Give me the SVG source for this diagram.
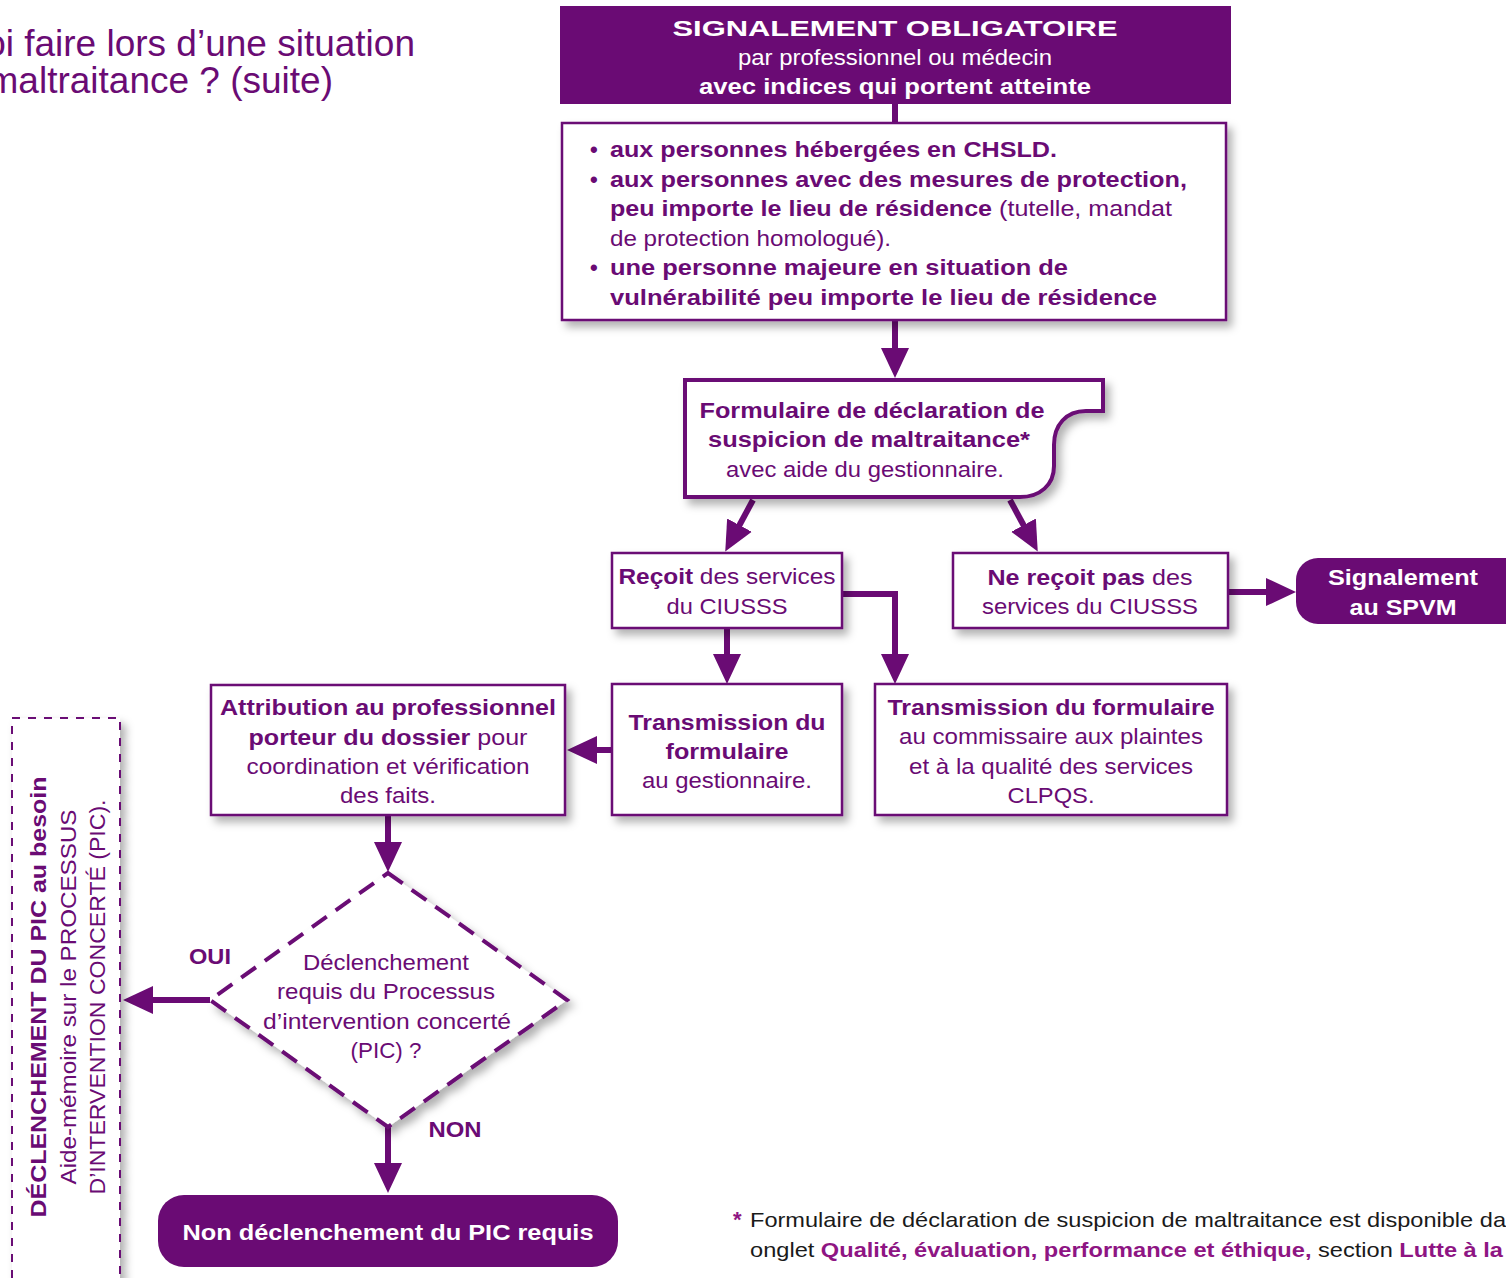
<svg xmlns="http://www.w3.org/2000/svg" width="1506" height="1278" viewBox="0 0 1506 1278">
<style>
text{font-family:"Liberation Sans",Arial,sans-serif;fill:#6a0b74;font-size:22px}
.b{font-weight:bold}
.w{fill:#fff}
.c{text-anchor:middle}
.box{fill:#fff;stroke:#6a0b74;stroke-width:2.5}
.fill{fill:#6a0b74}
.ln{fill:none;stroke:#6a0b74;stroke-width:6}
.fn{fill:#1a1a1a;font-size:21px}
.pk{fill:#8e1583;font-weight:bold}
</style>
<defs>
<filter id="sh" x="-10%" y="-10%" width="130%" height="140%">
<feDropShadow dx="5" dy="6" stdDeviation="4" flood-color="#000" flood-opacity="0.3"/>
</filter>
<marker id="ah" markerUnits="userSpaceOnUse" markerWidth="30" markerHeight="30" refX="1" refY="15" orient="auto">
<path d="M0,1 L30,15 L0,29 Z" fill="#6a0b74"/>
</marker>
</defs>

<g id="title">
<text x="415" y="56" style="font-size:37px;text-anchor:end">oi faire lors d’une situation</text>
<text x="333" y="93" style="font-size:37px;text-anchor:end">maltraitance ? (suite)</text>
</g>

<g id="connectors">
<line class="ln" x1="895" y1="104" x2="895" y2="124"/>
<line class="ln" x1="895" y1="320" x2="895" y2="349" marker-end="url(#ah)"/>
<line class="ln" x1="753" y1="500" x2="739" y2="526" marker-end="url(#ah)"/>
<line class="ln" x1="1010" y1="500" x2="1024" y2="526" marker-end="url(#ah)"/>
<line class="ln" x1="1228" y1="592" x2="1267" y2="592" marker-end="url(#ah)"/>
<line class="ln" x1="727" y1="628" x2="727" y2="655" marker-end="url(#ah)"/>
<polyline class="ln" points="842,594 895,594 895,655" marker-end="url(#ah)"/>
<line class="ln" x1="612" y1="750" x2="596" y2="750" marker-end="url(#ah)"/>
<line class="ln" x1="388" y1="815" x2="388" y2="843" marker-end="url(#ah)"/>
<line class="ln" x1="210" y1="1000" x2="152" y2="1000" marker-end="url(#ah)"/>
<line class="ln" x1="388" y1="1127" x2="388" y2="1164" marker-end="url(#ah)"/>
<text class="b c" x="210" y="964" textLength="42" lengthAdjust="spacingAndGlyphs">OUI</text>
<text class="b c" x="455" y="1137" textLength="53" lengthAdjust="spacingAndGlyphs">NON</text>
</g>

<g id="signalement-obligatoire">
<rect class="fill" x="560" y="6" width="671" height="98"/>
<text class="b w c" x="895" y="36" textLength="445" lengthAdjust="spacingAndGlyphs">SIGNALEMENT OBLIGATOIRE</text>
<text class="w c" x="895" y="65" textLength="314" lengthAdjust="spacingAndGlyphs">par professionnel ou médecin</text>
<text class="b w c" x="895" y="94" textLength="392" lengthAdjust="spacingAndGlyphs">avec indices qui portent atteinte</text>
</g>

<g id="personnes">
<rect class="box" x="562" y="123" width="664" height="197" filter="url(#sh)"/>
<text class="b" x="590" y="157">•</text>
<text class="b" x="610" y="157" textLength="447" lengthAdjust="spacingAndGlyphs">aux personnes hébergées en CHSLD.</text>
<text class="b" x="590" y="187">•</text>
<text class="b" x="610" y="187" textLength="577" lengthAdjust="spacingAndGlyphs">aux personnes avec des mesures de protection,</text>
<text x="610" y="216" textLength="562" lengthAdjust="spacingAndGlyphs"><tspan class="b">peu importe le lieu de résidence</tspan> (tutelle, mandat</text>
<text x="610" y="246" textLength="281" lengthAdjust="spacingAndGlyphs">de protection homologué).</text>
<text class="b" x="590" y="275">•</text>
<text class="b" x="610" y="275" textLength="458" lengthAdjust="spacingAndGlyphs">une personne majeure en situation de</text>
<text class="b" x="610" y="305" textLength="547" lengthAdjust="spacingAndGlyphs">vulnérabilité peu importe le lieu de résidence</text>
</g>

<g id="formulaire">
<path d="M685,380 H1103 V411 H1086 C1066,411 1054,425 1054,445 V466 C1054,485 1040,497 1020,497 H685 Z" fill="#fff" stroke="#6a0b74" stroke-width="4" filter="url(#sh)"/>
<text class="b c" x="872" y="418" textLength="345" lengthAdjust="spacingAndGlyphs">Formulaire de déclaration de</text>
<text class="b c" x="869" y="447" textLength="322" lengthAdjust="spacingAndGlyphs">suspicion de maltraitance*</text>
<text class="c" x="865" y="477" textLength="278" lengthAdjust="spacingAndGlyphs">avec aide du gestionnaire.</text>
</g>

<g id="recoit">
<rect class="box" x="612" y="553" width="230" height="75" filter="url(#sh)"/>
<text class="c" x="727" y="584" textLength="217" lengthAdjust="spacingAndGlyphs"><tspan class="b">Reçoit</tspan> des services</text>
<text class="c" x="727" y="614" textLength="121" lengthAdjust="spacingAndGlyphs">du CIUSSS</text>
</g>

<g id="ne-recoit">
<rect class="box" x="953" y="553" width="275" height="75" filter="url(#sh)"/>
<text class="c" x="1090" y="585" textLength="205" lengthAdjust="spacingAndGlyphs"><tspan class="b">Ne reçoit pas</tspan> des</text>
<text class="c" x="1090" y="614" textLength="216" lengthAdjust="spacingAndGlyphs">services du CIUSSS</text>
</g>

<g id="spvm">
<rect class="fill" x="1296" y="558" width="240" height="66" rx="22"/>
<text class="b w c" x="1403" y="585" textLength="150" lengthAdjust="spacingAndGlyphs">Signalement</text>
<text class="b w c" x="1403" y="615" textLength="107" lengthAdjust="spacingAndGlyphs">au SPVM</text>
</g>

<g id="transmission-gestionnaire">
<rect class="box" x="612" y="684" width="230" height="131" filter="url(#sh)"/>
<text class="b c" x="727" y="730" textLength="197" lengthAdjust="spacingAndGlyphs">Transmission du</text>
<text class="b c" x="727" y="759" textLength="123" lengthAdjust="spacingAndGlyphs">formulaire</text>
<text class="c" x="727" y="788" textLength="170" lengthAdjust="spacingAndGlyphs">au gestionnaire.</text>
</g>

<g id="transmission-commissaire">
<rect class="box" x="875" y="684" width="352" height="131" filter="url(#sh)"/>
<text class="b c" x="1051" y="715" textLength="327" lengthAdjust="spacingAndGlyphs">Transmission du formulaire</text>
<text class="c" x="1051" y="744" textLength="304" lengthAdjust="spacingAndGlyphs">au commissaire aux plaintes</text>
<text class="c" x="1051" y="774" textLength="284" lengthAdjust="spacingAndGlyphs">et à la qualité des services</text>
<text class="c" x="1051" y="803" textLength="87" lengthAdjust="spacingAndGlyphs">CLPQS.</text>
</g>

<g id="attribution">
<rect class="box" x="211" y="685" width="354" height="130" filter="url(#sh)"/>
<text class="b c" x="388" y="715" textLength="336" lengthAdjust="spacingAndGlyphs">Attribution au professionnel</text>
<text class="c" x="388" y="745" textLength="279" lengthAdjust="spacingAndGlyphs"><tspan class="b">porteur du dossier</tspan> pour</text>
<text class="c" x="388" y="774" textLength="283" lengthAdjust="spacingAndGlyphs">coordination et vérification</text>
<text class="c" x="388" y="803" textLength="96" lengthAdjust="spacingAndGlyphs">des faits.</text>
</g>

<g id="decision">
<polygon points="388,873 567,1000 388,1127 210,1000" fill="#fff" stroke="#6a0b74" stroke-width="4" stroke-dasharray="18,11" filter="url(#sh)"/>
<text class="c" x="386" y="970" textLength="166" lengthAdjust="spacingAndGlyphs">Déclenchement</text>
<text class="c" x="386" y="999" textLength="218" lengthAdjust="spacingAndGlyphs">requis du Processus</text>
<text class="c" x="387" y="1029" textLength="248" lengthAdjust="spacingAndGlyphs">d’intervention concerté</text>
<text class="c" x="386" y="1058" textLength="71" lengthAdjust="spacingAndGlyphs">(PIC) ?</text>
</g>

<g id="pic-box">
<rect x="12" y="718" width="108" height="580" fill="#fff" stroke="#6a0b74" stroke-width="2" stroke-dasharray="8,8" filter="url(#sh)"/>
<text class="b c" transform="translate(46,997) rotate(-90)" textLength="441" lengthAdjust="spacingAndGlyphs">DÉCLENCHEMENT DU PIC au besoin</text>
<text class="c" transform="translate(76,997) rotate(-90)" textLength="375" lengthAdjust="spacingAndGlyphs">Aide-mémoire sur le  PROCESSUS</text>
<text class="c" transform="translate(105,997) rotate(-90)" textLength="395" lengthAdjust="spacingAndGlyphs">D’INTERVENTION CONCERTÉ (PIC).</text>
</g>

<g id="non-declenchement">
<rect class="fill" x="158" y="1195" width="460" height="72" rx="26"/>
<text class="b w c" x="388" y="1240" textLength="411" lengthAdjust="spacingAndGlyphs">Non déclenchement du PIC requis</text>
</g>

<g id="footnote">
<text x="733" y="1227" class="pk">*</text>
<text class="fn" x="750" y="1227" textLength="756" lengthAdjust="spacingAndGlyphs">Formulaire de déclaration de suspicion de maltraitance est disponible da</text>
<text class="fn" x="750" y="1257" textLength="753" lengthAdjust="spacingAndGlyphs">onglet <tspan class="pk">Qualité, évaluation, performance et éthique,</tspan> section <tspan class="pk">Lutte à la</tspan></text>
</g>
</svg>
